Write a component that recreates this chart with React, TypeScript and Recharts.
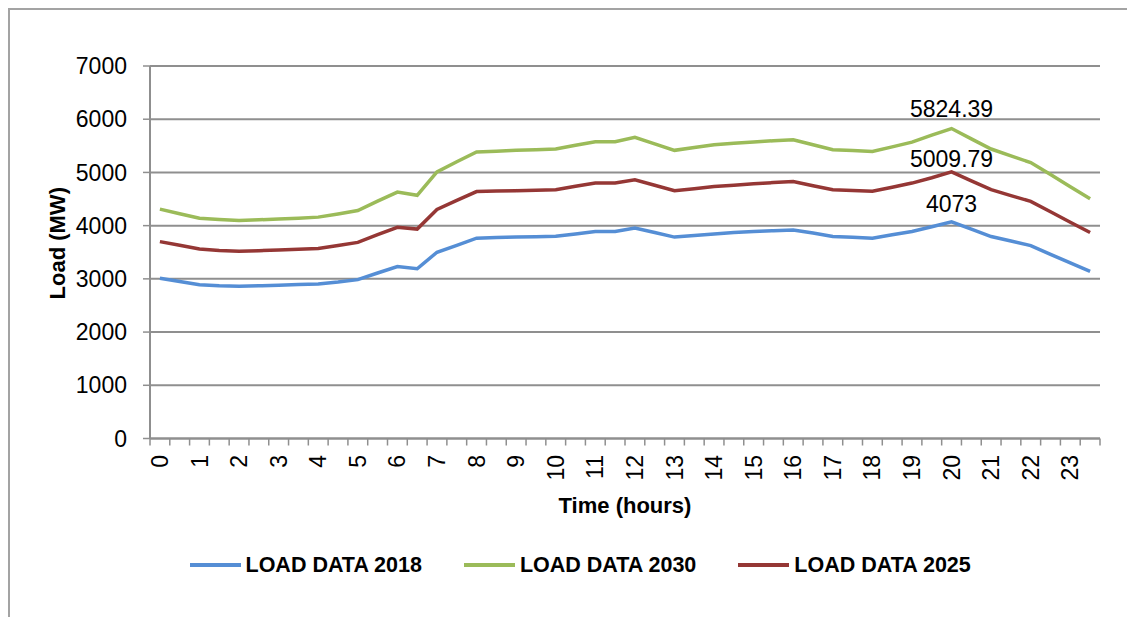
import React from 'react';
import { LineChart, Line, XAxis, YAxis, CartesianGrid, Legend, Label, LabelList } from 'recharts';

const timeSlots = [
  '0', '0.5', '1', '1.5', '2', '2.5', '3', '3.5', '4', '4.5', '5', '5.5',
  '6', '6.5', '7', '7.5', '8', '8.5', '9', '9.5', '10', '10.5', '11', '11.5',
  '12', '12.5', '13', '13.5', '14', '14.5', '15', '15.5', '16', '16.5', '17', '17.5',
  '18', '18.5', '19', '19.5', '20', '20.5', '21', '21.5', '22', '22.5', '23', '23.5',
];
const hourLabels = [
  '0', '1', '2', '3', '4', '5', '6', '7', '8', '9', '10', '11',
  '12', '13', '14', '15', '16', '17', '18', '19', '20', '21', '22', '23',
];
const yTicks = [0, 1000, 2000, 3000, 4000, 5000, 6000, 7000];

const load2018 = [
  3010, 2950, 2890, 2870, 2860, 2870, 2880, 2895, 2905, 2940, 2985, 3110,
  3230, 3190, 3500, 3630, 3765, 3775, 3785, 3790, 3800, 3845, 3890, 3890,
  3955, 3870, 3785, 3815, 3845, 3870, 3890, 3905, 3920, 3860, 3795, 3780,
  3765, 3830, 3890, 3980, 4073, 3935, 3795, 3710, 3625, 3460, 3300, 3140,
];
const load2030 = [
  4310, 4225, 4140, 4115, 4095, 4110, 4125, 4140, 4160, 4220, 4285, 4460,
  4630, 4570, 5010, 5200, 5385, 5400, 5415, 5425, 5440, 5510, 5575, 5575,
  5660, 5535, 5415, 5470, 5520, 5550, 5570, 5595, 5615, 5520, 5425, 5410,
  5395, 5480, 5570, 5700, 5824.39, 5630, 5440, 5310, 5185, 4960, 4730, 4505,
];
const load2025 = [
  3700, 3630, 3560, 3535, 3520, 3530, 3540, 3555, 3570, 3625, 3685, 3830,
  3970, 3935, 4305, 4475, 4640, 4650, 4658, 4665, 4675, 4740, 4800, 4800,
  4860, 4760, 4655, 4695, 4735, 4760, 4785, 4810, 4830, 4750, 4675, 4660,
  4645, 4720, 4800, 4900, 5009.79, 4840, 4675, 4565, 4455, 4260, 4065, 3870,
];
const labelledSlot = 40;

const data = timeSlots.map((slot, i) => ({
  slot,
  load2018: load2018[i],
  load2030: load2030[i],
  load2025: load2025[i],
}));

const FONT = '"Liberation Sans", Arial, sans-serif';
const GRID = '#8f8f8f';
const C2018 = '#558ED5';
const C2030 = '#9BBB59';
const C2025 = '#953735';

const series = [
  { key: 'load2018', name: 'LOAD DATA 2018', color: C2018, gap: 10 },
  { key: 'load2030', name: 'LOAD DATA 2030', color: C2030, gap: 12 },
  { key: 'load2025', name: 'LOAD DATA 2025', color: C2025, gap: 5 },
];

const XTick = (props: any) => {
  const { x, y, index, width } = props;
  const bw = width / timeSlots.length;
  const ty = y + 16.5;
  return (
    <g>
      <line x1={x - bw / 2} x2={x - bw / 2} y1={y} y2={y + 7} stroke={GRID} strokeWidth={1.5} />
      {index === timeSlots.length - 1 && (
        <line x1={x + bw / 2} x2={x + bw / 2} y1={y} y2={y + 7} stroke={GRID} strokeWidth={1.5} />
      )}
      {index % 2 === 0 && (
        <text
          x={x}
          y={ty}
          dy="0.35em"
          textAnchor="end"
          transform={`rotate(-90, ${x}, ${ty})`}
          fontFamily={FONT}
          fontSize={23}
          fill="#000"
        >
          {hourLabels[index / 2]}
        </text>
      )}
    </g>
  );
};

const makeValueLabel = (gap: number) => (props: any) => {
  const { x, y, value, index } = props;
  if (index !== labelledSlot) return null;
  return (
    <text x={x} y={y - gap} textAnchor="middle" fontFamily={FONT} fontSize={23} fill="#000">
      {value}
    </text>
  );
};

const LegendContent = () => (
  <div style={{ display: 'flex', alignItems: 'center', height: 30, fontFamily: FONT }}>
    {series.map((s, i) => (
      <div key={s.key} style={{ display: 'flex', alignItems: 'center', marginLeft: i === 0 ? 0 : 42 }}>
        <div style={{ width: 51, height: 4, background: s.color }} />
        <span style={{ marginLeft: 5, fontSize: 21.5, fontWeight: 'bold', color: '#000', whiteSpace: 'nowrap' }}>
          {s.name}
        </span>
      </div>
    ))}
  </div>
);

export default function App() {
  return (
    <div
      style={{
        position: 'fixed',
        left: 8,
        top: 8,
        width: 1200,
        height: 700,
        borderTop: '2px solid #a3a3a3',
        borderLeft: '2px solid #a3a3a3',
        background: '#fff',
        overflow: 'hidden',
      }}
    >
      <LineChart
        width={1101}
        height={591}
        data={data}
        margin={{ top: 56, right: 11, bottom: 62.5, left: 0 }}
      >
        <CartesianGrid horizontal vertical={false} stroke={GRID} strokeWidth={2} />
        <XAxis
          dataKey="slot"
          scale="band"
          interval={0}
          height={100}
          tickSize={0}
          tickMargin={0}
          tickLine={false}
          axisLine={{ stroke: GRID, strokeWidth: 2 }}
          tick={<XTick />}
        >
          <Label
            content={(p: any) => {
              const vb = p.viewBox || {};
              return (
                <text
                  x={vb.x + vb.width / 2}
                  y={vb.y + 66.5}
                  dy="0.35em"
                  textAnchor="middle"
                  fontFamily={FONT}
                  fontSize={22}
                  fontWeight="bold"
                  fill="#000"
                >
                  Time (hours)
                </text>
              );
            }}
          />
        </XAxis>
        <YAxis
          width={140}
          domain={[0, 7000]}
          ticks={yTicks}
          interval={0}
          tickSize={7}
          tickMargin={16}
          tickLine={{ stroke: GRID, strokeWidth: 1.5 }}
          axisLine={{ stroke: GRID, strokeWidth: 2 }}
          tick={{ fontFamily: FONT, fontSize: 23, fill: '#000' }}
        >
          <Label
            content={(p: any) => {
              const vb = p.viewBox || {};
              const cx = vb.x + 47;
              const cy = vb.y + vb.height / 2 - 9;
              return (
                <text
                  x={cx}
                  y={cy}
                  dy="0.35em"
                  textAnchor="middle"
                  transform={`rotate(-90, ${cx}, ${cy})`}
                  fontFamily={FONT}
                  fontSize={22}
                  fontWeight="bold"
                  fill="#000"
                >
                  Load (MW)
                </text>
              );
            }}
          />
        </YAxis>
        <Legend
          layout="horizontal"
          verticalAlign="middle"
          align="center"
          content={<LegendContent />}
          wrapperStyle={{ left: 179.5, top: 540, width: 'auto', height: 30 }}
        />
        {series.map((s) => (
          <Line
            key={s.key}
            type="linear"
            dataKey={s.key}
            name={s.name}
            stroke={s.color}
            strokeWidth={3.5}
            dot={false}
            activeDot={false}
            isAnimationActive={false}
          >
            <LabelList dataKey={s.key} content={makeValueLabel(s.gap)} />
          </Line>
        ))}
      </LineChart>
    </div>
  );
}
